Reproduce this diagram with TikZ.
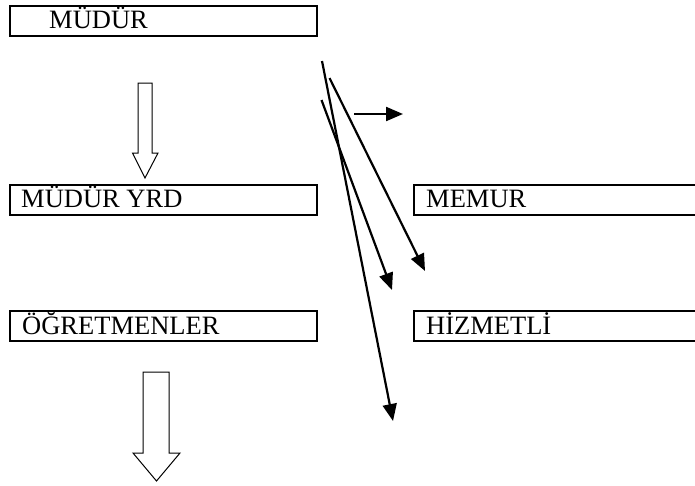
\documentclass[tikz,border=0pt]{standalone}
\usepackage{fontspec}
\setmainfont{Liberation Serif}
\usetikzlibrary{arrows.meta}
\begin{document}
\begin{tikzpicture}[x=1pt,y=-1pt,
  box/.style={draw,line width=2.2pt,minimum height=30pt,inner sep=0pt,anchor=north west},
  lbl/.style={anchor=base west,font=\fontsize{26.5}{31}\selectfont,inner sep=0pt},
  ln/.style={line width=2.2pt,-{Triangle[length=17pt,width=14pt]}},
  blk/.style={draw,line width=1pt,fill=white}]
\useasboundingbox (0,0) rectangle (695,485);
% boxes
\node[box,minimum width=307pt] (mudur) at (9,5) {};
\node[box,minimum width=307pt] (yrd) at (9,184) {};
\node[box,minimum width=307pt] (ogr) at (9,310) {};
\node[box,minimum width=300pt] (memur) at (413,184) {};
\node[box,minimum width=300pt] (hiz) at (413,310) {};
% labels
\node[lbl] (tmudur) at (49,28) {MÜDÜR};
\node[lbl] (tyrd) at (21,207) {MÜDÜR YRD};
\node[lbl] (togr) at (22,334) {ÖĞRETMENLER};
\node[lbl] (tmemur) at (426,207) {MEMUR};
\node[lbl] (thiz) at (426,334) {HİZMETLİ};
% block arrows
\draw[blk] (138,83) -- (152,83) -- (152,153) -- (158,153) -- (145,178) -- (132.5,153) -- (138,153) -- cycle;
\draw[blk] (143,372) -- (169,372) -- (169,453) -- (180,453) -- (156.5,481) -- (133,453) -- (143,453) -- cycle;
% line arrows
\coordinate (a1s) at (322,61);
\coordinate (a1e) at (393,421);
\coordinate (a2s) at (329.5,78);
\coordinate (a2e) at (425,271);
\coordinate (a3s) at (321.5,100);
\coordinate (a3e) at (392,290);
\coordinate (a4s) at (354,114);
\coordinate (a4e) at (403,114);
\draw[ln] (a1s) -- (a1e);
\draw[ln] (a2s) -- (a2e);
\draw[ln] (a3s) -- (a3e);
\draw[ln] (a4s) -- (a4e);
\end{tikzpicture}
\end{document}
